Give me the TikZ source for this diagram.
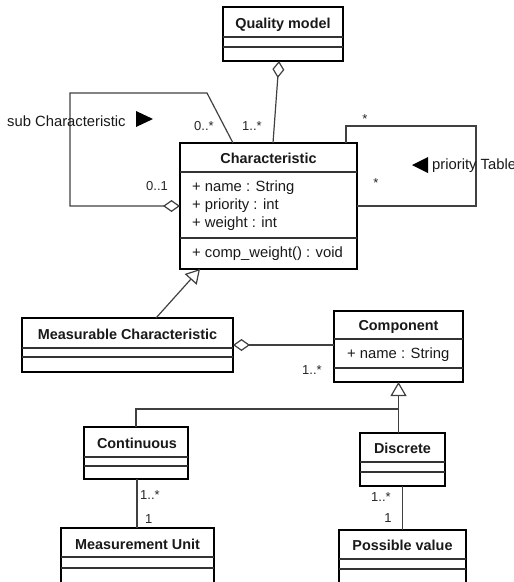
\documentclass[tikz,border=0pt]{standalone}
\usepackage{fontspec}
\setmainfont{Liberation Sans}
\usetikzlibrary{arrows.meta,calc}

% class box: name, x1, y1, x2, y2, first separator, second separator
\newcommand\umlbox[7]{%
  \node[cls, minimum width={#4-#2}, minimum height={#5-#3}] (#1) at (#2,#3) {};
  \draw[sep] (#2,#6) -- (#4,#6);
  \draw[sep] (#2,#7) -- (#4,#7);
}

\tikzset{
  aggtip/.tip={Diamond[open, fill=white, length=17pt, width=12pt, line width=1.2pt]},
  gentip/.tip={Triangle[open, fill=white, length=14pt, width=16pt, line width=1.2pt]}
}

\begin{document}
\begin{tikzpicture}[x=1pt,y=-1pt,
  cls/.style={draw=black, line width=2.3pt, rectangle, anchor=north west, inner sep=0pt, outer sep=0pt},
  sep/.style={draw=black!80, line width=1.1pt},
  conn/.style={draw=black!75, line width=1.2pt},
  title/.style={font=\fontsize{14.4}{17}\selectfont\bfseries, text=black!90, anchor=mid, inner sep=0pt},
  attr/.style={font=\fontsize{14.8}{17}\selectfont, text=black!90, anchor=mid west, inner sep=0pt},
  mult/.style={font=\fontsize{13}{15}\selectfont, text=black!85, anchor=mid, inner sep=0pt}]

\useasboundingbox (0,0) rectangle (514,582);

% classes
\umlbox{qm}{223}{7}{343}{61}{37}{47}
\node[title] (qmt) at (283,25.5) {Quality model};

\umlbox{ch}{180}{143}{357}{269}{172}{238}
\node[title] (cht) at (268.5,160.5) {Characteristic};
\node[attr] (ch1) at (192,189) {+ name : String};
\node[attr] (ch2) at (192,207) {+ priority : int};
\node[attr] (ch3) at (192,225) {+ weight : int};
\node[attr] (ch4) at (192,255) {+ comp\_weight() : void};

\umlbox{mc}{22}{318}{233}{372}{348}{357}
\node[title] (mct) at (127.5,336.5) {Measurable Characteristic};

\umlbox{comp}{334}{311}{463}{382}{339}{368}
\node[title] (compt) at (398.5,327.5) {Component};
\node[attr] (comp1) at (347,356) {+ name : String};

\umlbox{co}{84}{427}{188}{479}{457}{466}
\node[title] (cot) at (137,445.5) {Continuous};

\umlbox{di}{360}{433}{445}{486}{462}{472}
\node[title] (dit) at (402.5,450.5) {Discrete};

\umlbox{mu}{61}{528}{214}{584}{557}{568}
\node[title] (mut) at (137.5,546.5) {Measurement Unit};

\umlbox{pv}{339}{530}{466}{584}{559}{569}
\node[title] (pvt) at (402.5,547.5) {Possible value};

% Quality model aggregates characteristics
\draw[conn, {aggtip}-] ($(qm.south)+(-4,0)$) -- ($(ch.north)+(4.5,0)$);
\node[mult] (m1) at (252,127.5) {1..*};

% sub characteristic self-association
\draw[conn, -{aggtip}] ($(ch.north west)+(53,0)$) -- (207,93) -- (70,93) -- (70,206) -- (ch.west);
\node[mult] (m2) at (204,127.5) {0..*};
\node[mult] (m3) at (157,187.5) {0..1};
\node[attr, anchor=mid west] (subl) at (7,123.5) {sub Characteristic};
\fill[black] (136,111) -- (153,119) -- (136,127) -- cycle;

% priority table self-association
\draw[conn] ($(ch.north east)+(-11,0)$) -- ++(0,-17) -- (476,126) -- (476,206) -- (ch.east);
\node[mult] (m4) at (365,121) {*};
\node[mult] (m5) at (376,185) {*};
\fill[black] (428,157) -- (412,165) -- (428,173) -- cycle;
\node[attr] (prio) at (432,166.5) {priority Table};

% generalisation Measurable Characteristic -> Characteristic
\draw[conn, -{gentip}] ($(mc.north west)+(134,0)$) -- ($(ch.south west)+(20,0)$);

% Measurable Characteristic aggregates components
\draw[conn, {aggtip}-] (mc.east) -- (mc.east -| comp.west);
\node[mult] (m6) at (312,371.5) {1..*};

% specialisations of Component
\coordinate (j) at (398.5,409);
\draw[conn, -{gentip}] (co.north) |- (j) -- (comp.south);
\draw[conn] (di.north -| j) -- (j);

% Continuous -- Measurement Unit
\coordinate (cu) at ($(co.south)+(1,0)$);
\draw[conn] (cu) -- (cu |- mu.north);
\node[mult, anchor=mid west] (m7) at (140,496.5) {1..*};
\node[mult, anchor=mid west] (m8) at (145,520.5) {1};

% Discrete -- Possible value
\draw[conn] (di.south) -- (di.south |- pv.north);
\node[mult] (m9) at (381,498.5) {1..*};
\node[mult] (m10) at (388,519.5) {1};

\end{tikzpicture}
\end{document}
